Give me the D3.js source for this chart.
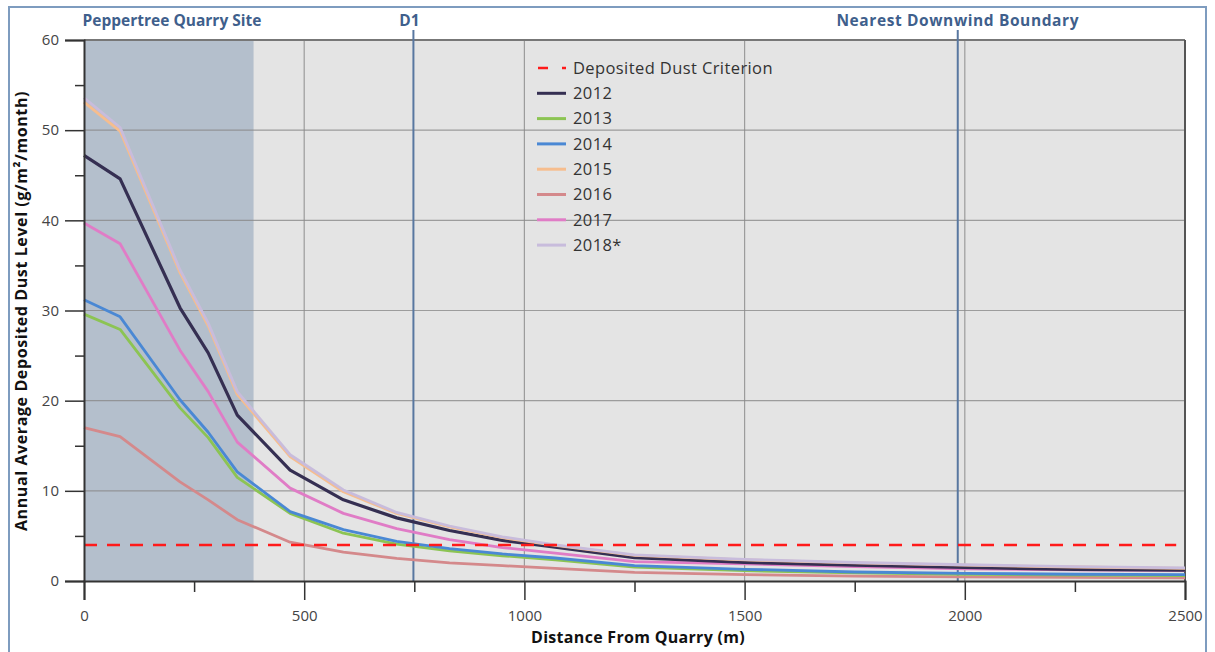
<!DOCTYPE html>
<html>
<head>
<meta charset="utf-8">
<script src="https://cdn.jsdelivr.net/npm/d3@7"></script>
<style>
  body { margin: 0; background: #fff; }
  svg text { font-family: "Open Sans", sans-serif; }
</style>
</head>
<body>
<div id="chart"></div>
<script>
// distances (m) where the modelled levels were read
const distances = [0, 82, 218, 282, 348, 468, 589, 710, 830, 950, 1070, 1250, 1500, 1750, 2000, 2250, 2500];

const years = ["2012", "2013", "2014", "2015", "2016", "2017", "2018*"];
const values_2012 = [47.2, 44.6, 30.3, 25.3, 18.4, 12.3, 9.0, 7.0, 5.6, 4.5, 3.75, 2.6, 2.05, 1.75, 1.5, 1.3, 1.2];
const values_2013 = [29.6, 27.9, 19.2, 15.9, 11.5, 7.5, 5.3, 4.1, 3.35, 2.8, 2.35, 1.55, 1.15, 0.9, 0.75, 0.65, 0.6];
const values_2014 = [31.2, 29.3, 20.1, 16.5, 12.1, 7.7, 5.7, 4.4, 3.6, 3.0, 2.55, 1.7, 1.3, 1.0, 0.85, 0.75, 0.7];
const values_2015 = [53.1, 49.9, 34.2, 28.3, 20.7, 13.8, 9.9, 7.5, 6.0, 4.8, 3.95, 2.85, 2.35, 2.0, 1.75, 1.55, 1.4];
const values_2016 = [17.0, 16.0, 11.0, 9.0, 6.8, 4.3, 3.2, 2.5, 2.0, 1.7, 1.4, 0.95, 0.7, 0.55, 0.45, 0.4, 0.35];
const values_2017 = [39.7, 37.4, 25.6, 21.0, 15.4, 10.3, 7.5, 5.8, 4.6, 3.7, 3.1, 2.15, 1.9, 1.6, 1.35, 1.25, 1.15];
const values_2018 = [53.6, 50.3, 34.5, 28.6, 21.0, 14.0, 10.1, 7.6, 6.1, 4.9, 4.0, 2.9, 2.4, 2.05, 1.8, 1.6, 1.45];

const criterion = 4;            // deposited dust criterion, g/m2/month
const quarrySiteEnd = 385;      // m
const markers = [
  { name: "D1", dist: 748 },
  { name: "Nearest Downwind Boundary", dist: 1984 }
];

const xTicks = [0, 500, 1000, 1500, 2000, 2500];
const yTicks = [0, 10, 20, 30, 40, 50, 60];

// series styles
const series = [
  { year: "2016", vals: values_2016, color: "#d4898b", w: 2.8 },
  { year: "2013", vals: values_2013, color: "#8cc453", w: 2.8 },
  { year: "2014", vals: values_2014, color: "#4a88d4", w: 2.8 },
  { year: "2017", vals: values_2017, color: "#e07cc6", w: 2.8 },
  { year: "2012", vals: values_2012, color: "#352f52", w: 3.2 },
  { year: "2015", vals: values_2015, color: "#f6bd8e", w: 2.8 },
  { year: "2018*", vals: values_2018, color: "#c8bcdc", w: 2.8 }
];

const W = 1215, H = 652;
const margin = { top: 40, right: 30, bottom: 71, left: 84 };
const width = 1185 - margin.left;
const height = 581 - margin.top;

const svg = d3.select("#chart").append("svg")
    .attr("width", W)
    .attr("height", H);

// outer frame
svg.append("rect")
    .attr("x", 9).attr("y", 7)
    .attr("width", 1197).attr("height", 648)
    .attr("fill", "none")
    .attr("stroke", "#7e9cbf")
    .attr("stroke-width", 2);

const g = svg.append("g")
    .attr("transform", `translate(${margin.left},${margin.top})`);

const x = d3.scaleLinear().domain([0, 2500]).range([0, width]);
const y = d3.scaleLinear().domain([0, 60]).range([height, 0]);

// plot background
g.append("rect")
    .attr("width", width).attr("height", height)
    .attr("fill", "#e4e4e4");

// quarry site shading
g.append("rect")
    .attr("x", x(0)).attr("y", 0)
    .attr("width", x(quarrySiteEnd) - x(0))
    .attr("height", height)
    .attr("fill", "#b4bfcc");

// grid
g.append("g").selectAll("line")
  .data(xTicks.slice(1, -1)).enter().append("line")
    .attr("x1", d => x(d)).attr("x2", d => x(d))
    .attr("y1", 0).attr("y2", height)
    .attr("stroke", "#8a8a8a").attr("stroke-opacity", 0.8).attr("stroke-width", 1.2);

g.append("g").selectAll("line")
  .data(yTicks.slice(1, -1)).enter().append("line")
    .attr("x1", 0).attr("x2", width)
    .attr("y1", d => y(d)).attr("y2", d => y(d))
    .attr("stroke", "#8a8a8a").attr("stroke-opacity", 0.8).attr("stroke-width", 1.2);

// top and right frame of plot
g.append("line").attr("x1", 0).attr("x2", width).attr("y1", 0).attr("y2", 0)
    .attr("stroke", "#777").attr("stroke-width", 2);
g.append("line").attr("x1", width).attr("x2", width).attr("y1", 0).attr("y2", height)
    .attr("stroke", "#555").attr("stroke-width", 2);

// marker lines (D1, boundary)
g.selectAll(".marker")
  .data(markers).enter().append("line")
    .attr("class", "marker")
    .attr("x1", d => x(d.dist)).attr("x2", d => x(d.dist))
    .attr("y1", -10).attr("y2", height)
    .attr("stroke", "#5877a0").attr("stroke-width", 2);

// data lines
const line = d3.line()
    .x((d, i) => x(distances[i]))
    .y(d => y(d));

g.selectAll(".series")
  .data(series).enter().append("path")
    .attr("class", "series")
    .attr("fill", "none")
    .attr("stroke", d => d.color)
    .attr("stroke-width", d => d.w)
    .attr("stroke-linejoin", "round")
    .attr("d", d => line(d.vals));

// criterion line
g.append("line")
    .attr("x1", x(0)).attr("x2", x(2480))
    .attr("y1", y(criterion)).attr("y2", y(criterion))
    .attr("stroke", "#ff1a1a")
    .attr("stroke-width", 2.5)
    .attr("stroke-dasharray", "13,10");

// axes
g.append("g")
    .attr("transform", `translate(0,${height})`)
    .call(d3.axisBottom(x).tickValues(xTicks).tickSize(19).tickPadding(10).tickFormat(d3.format("d")));
g.append("g")
    .attr("transform", `translate(0,${height})`)
    .call(d3.axisBottom(x).tickValues([250, 750, 1250, 1750, 2250]).tickSize(11).tickFormat(""))
    .select(".domain").remove();

g.append("g")
    .call(d3.axisLeft(y).tickValues(yTicks).tickSize(19).tickPadding(6));
g.append("g")
    .call(d3.axisLeft(y).tickValues([5, 15, 25, 35, 45, 55]).tickSize(9).tickFormat(""))
    .select(".domain").remove();

g.selectAll(".domain").attr("stroke", "#333").attr("stroke-width", 2);
g.selectAll(".tick line").attr("stroke", "#333").attr("stroke-width", 1.5);
g.selectAll(".tick text")
    .style("font-size", "15px")
    .style("font-family", "'Open Sans', sans-serif")
    .attr("fill", "#444");

// axis titles
svg.append("text")
    .attr("x", 638).attr("y", 643)
    .attr("text-anchor", "middle")
    .style("font-size", "16px").style("font-weight", "bold")
    .style("letter-spacing", "0.3px")
    .attr("fill", "#111")
    .text("Distance From Quarry (m)");

svg.append("text")
    .attr("transform", "translate(27,311) rotate(-90)")
    .attr("text-anchor", "middle")
    .style("font-size", "16px").style("font-weight", "bold")
    .style("letter-spacing", "0.6px")
    .attr("fill", "#111")
    .text("Annual Average Deposited Dust Level (g/m²/month)");

// top labels
svg.append("text")
    .attr("x", 172).attr("y", 26)
    .attr("text-anchor", "middle")
    .style("font-size", "15.5px").style("font-weight", "bold")
    .attr("fill", "#3f5f8c")
    .text("Peppertree Quarry Site");

svg.selectAll(".mlabel")
  .data(markers).enter().append("text")
    .attr("class", "mlabel")
    .attr("x", d => margin.left + x(d.dist) + (d.name === "D1" ? -4 : 0))
    .attr("y", 26)
    .attr("text-anchor", "middle")
    .style("font-size", "15.5px").style("font-weight", "bold")
    .style("letter-spacing", d => d.name === "D1" ? "0px" : "0.6px")
    .attr("fill", "#3f5f8c")
    .text(d => d.name);

// legend
const legendItems = [{ year: "Deposited Dust Criterion", dashed: true, color: "#ff1a1a" }]
  .concat(years.map(yr => {
    const s = series.find(d => d.year === yr);
    return { year: yr, color: s.color, w: s.w };
  }));

const legend = svg.append("g").attr("transform", "translate(530,68)");
const rows = legend.selectAll("g")
  .data(legendItems).enter().append("g")
    .attr("transform", (d, i) => `translate(0,${i * 25.3})`);

rows.filter(d => d.dashed).each(function(d) {
  const r = d3.select(this);
  r.append("line").attr("x1", 8).attr("x2", 18).attr("y1", 0).attr("y2", 0)
      .attr("stroke", d.color).attr("stroke-width", 2.5);
  r.append("line").attr("x1", 32).attr("x2", 36).attr("y1", 0).attr("y2", 0)
      .attr("stroke", d.color).attr("stroke-width", 2.5);
});
rows.filter(d => !d.dashed).append("line")
    .attr("x1", 7).attr("x2", 36).attr("y1", 0).attr("y2", 0)
    .attr("stroke", d => d.color)
    .attr("stroke-width", 3);

rows.append("text")
    .attr("x", 43).attr("y", 0)
    .attr("dy", "0.35em")
    .style("font-size", "16.5px")
    .style("letter-spacing", "0.4px")
    .attr("fill", "#333")
    .text(d => d.year);
</script>
</body>
</html>
